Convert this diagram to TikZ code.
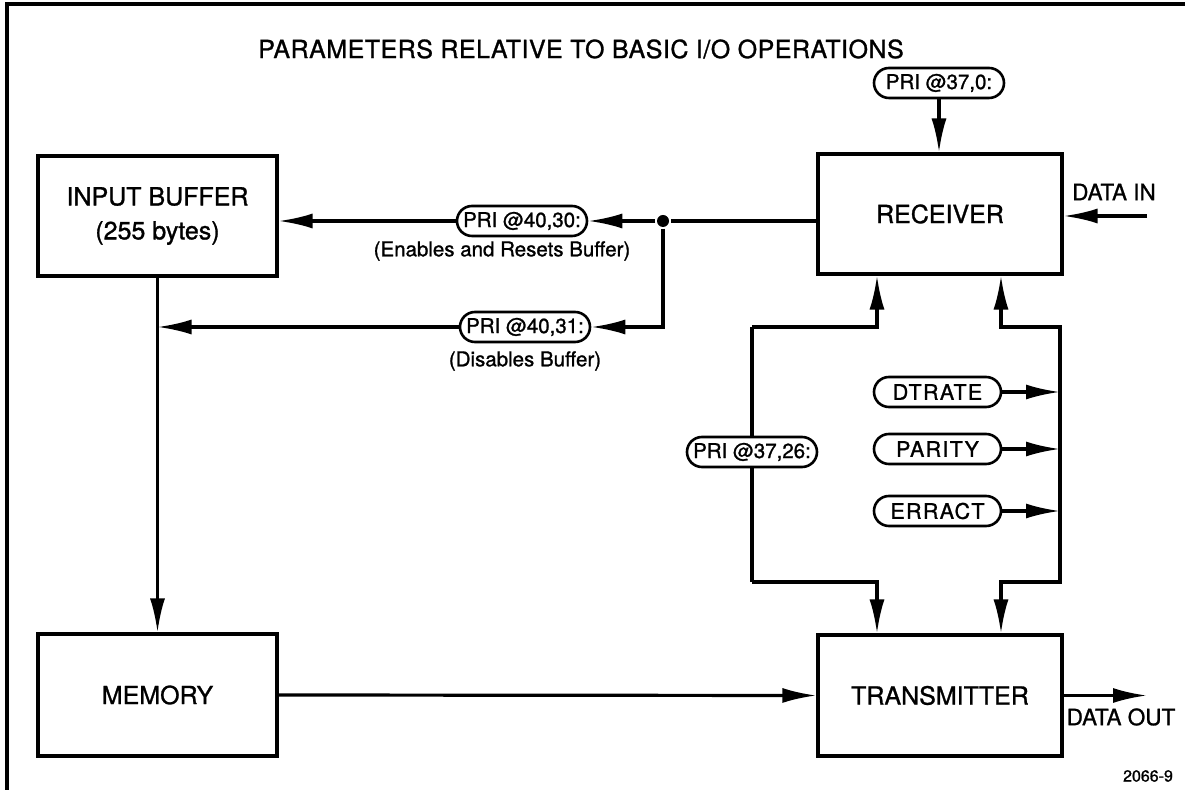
\documentclass[tikz,border=0pt]{standalone}
\usepackage{fontspec}
\setmainfont{TeX Gyre Heros}
\newfontfamily\hvmed{TeX Gyre Heros}[FakeBold=1.1]
\usetikzlibrary{arrows.meta}
\begin{document}
\hvmed
\begin{tikzpicture}[x=0.5pt,y=-0.5pt,
  line width=1.6pt,
  box/.style={draw, line width=1.6pt, minimum width=121pt, minimum height=60pt, align=center, font=\fontsize{12.5}{15}\selectfont, inner sep=0pt},
  pill/.style={draw, line width=1.3pt, rounded corners=7.5pt, minimum height=15pt, minimum width=65pt, inner sep=0pt, fill=white, font=\fontsize{10.25}{12}\selectfont},
  ppill/.style={pill, minimum width=63.5pt, font=\fontsize{10.75}{12}\selectfont\addfontfeatures{LetterSpace=6}},
  lab/.style={font=\fontsize{10.25}{12}\selectfont, inner sep=0pt},
  side/.style={font=\fontsize{11.25}{13}\selectfont, inner sep=0pt},
  arr/.style={-{Latex[length=17pt,width=7.5pt]}},
  barr/.style={{Latex[length=17pt,width=7.5pt]}-{Latex[length=17pt,width=7.5pt]}},
  jdot/.style={circle, fill, inner sep=0pt, minimum size=6pt}]
\useasboundingbox (0,0) rectangle (1185,790);
% frame
\draw[line width=1.6pt] (7,790) -- (7,4) -- (1185,4);
% title
\node[font=\fontsize{12.5}{15}\selectfont\addfontfeatures{LetterSpace=2}] (title) at (581,49) {PARAMETERS RELATIVE TO BASIC I/O OPERATIONS};
% boxes
\node[box, minimum width=119.5pt] (ib) at (157.5,216) {INPUT BUFFER\\[2pt](255 bytes)};
\node[box, minimum width=122pt] (rx) at (940,214) {RECEIVER};
\node[box, minimum width=119.5pt, minimum height=61pt] (mem) at (157.5,695) {MEMORY};
\node[box, minimum width=122pt, minimum height=60.5pt] (tx) at (940,695.5) {TRANSMITTER};
% pills
\node[pill] (p370) at (939,83) {PRI @37,0:};
\node[pill] (p4030) at (522,221) {PRI @40,30:};
\node[lab] (l4030) at (502,251) {(Enables and Resets Buffer)};
\node[pill] (p4031) at (525,327) {PRI @40,31:};
\node[lab] (l4031) at (525,361) {(Disables Buffer)};
\node[ppill] (dt) at (937.5,392) {DTRATE};
\node[ppill] (par) at (937.5,449) {PARITY};
\node[ppill] (err) at (937.5,511) {ERRACT};
% junction
\node[jdot] (j) at (663,221) {};
% side labels
\node[side] (dinl) at (1114,192) {DATA IN};
\node[side] (doutl) at (1121,717) {DATA OUT};
\node[font=\fontsize{8}{10}\selectfont, inner sep=0pt] (fig) at (1148,776) {2066-9};
% coordinates
\coordinate (din) at (1147,216);
\coordinate (dout) at (1147,695.5);
\coordinate (a1) at (877,327);
\coordinate (a2) at (877,582);
\coordinate (b1) at (1001,327);
\coordinate (b2) at (1001,582);
\coordinate (r1) at (1060,327);
\coordinate (r2) at (1060,582);
\coordinate (l1) at (752,327);
\coordinate (l2) at (752,582);
% loop through PRI @37,26
\draw[arr] (l1) -- (a1) -- (rx.south -| a1);
\draw[arr] (l2) -- (a2) -- (tx.north -| a2);
\draw (l1) -- (l2);
\node[pill] (p3726) at (752,452) {PRI @37,26:};
% connectors
\draw (rx.west |- j) -- (j);
\draw[arr] (j) -- (p4030.east);
\draw[arr] (p4030.west) -- (ib.east |- p4030);
\draw[arr] (j) |- (p4031.east);
\draw[arr] (p4031.west) -- (ib.south |- p4031);
\draw[arr] (ib.south) -- (mem.north);
\draw[arr] (p370.south) -- (rx.north -| p370.south);
\draw[arr] (din) -- (rx.east |- din);
\draw[arr] (tx.east) -- (dout);
\draw[arr] (mem.east) -- (tx.west);
\draw[barr] (rx.south -| b1) -- (b1) -- (r1) -- (r2) -- (b2) -- (tx.north -| b2);
\draw[arr] (dt.east) -- (dt.east -| r1);
\draw[arr] (par.east) -- (par.east -| r1);
\draw[arr] (err.east) -- (err.east -| r1);
\end{tikzpicture}
\end{document}
